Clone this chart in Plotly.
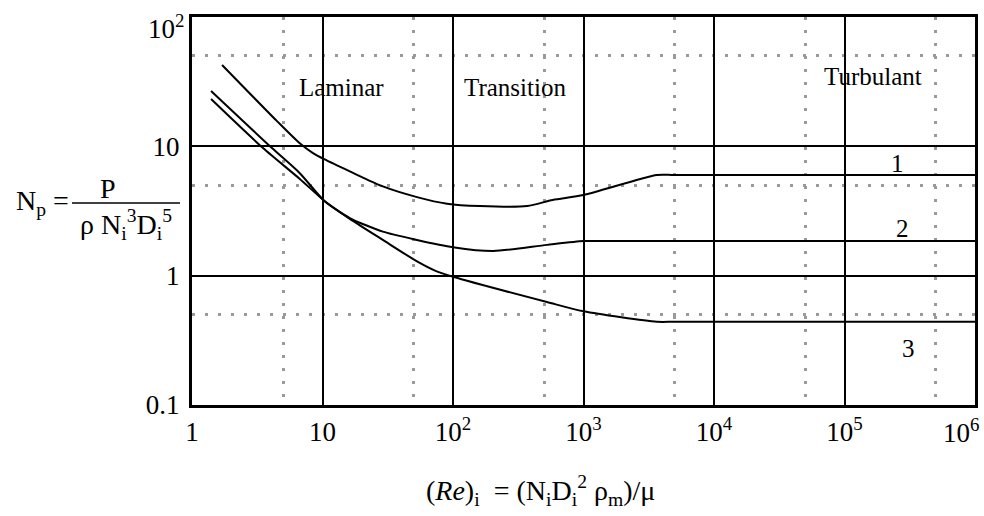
import plotly.graph_objects as go

# ---- data (log-log power-number chart) ----
re_1 = [1.7, 4.5, 6.73, 8.4, 10.3, 16.2, 29, 53, 90, 160, 370, 580, 1000, 3650, 5000, 1e6]
np_1 = [42.6, 15.6, 10.5, 8.9, 7.95, 6.4, 4.9, 4.05, 3.6, 3.45, 3.45, 3.85, 4.2, 6.0, 6.0, 6.0]

re_2 = [1.4, 4.1, 6.7, 10.3, 16.2, 29, 53, 100, 203, 525, 1000, 1400, 1e6]
np_2 = [26.8, 9.7, 6.2, 3.8, 2.79, 2.19, 1.89, 1.66, 1.55, 1.73, 1.85, 1.85, 1.85]

re_3 = [1.4, 3.5, 6.7, 10.3, 16.2, 29, 53, 75, 100, 525, 1000, 3650, 5000, 1e6]
np_3 = [23.2, 9.7, 5.6, 3.8, 2.75, 1.89, 1.29, 1.08, 0.98, 0.625, 0.53, 0.44, 0.44, 0.44]

x_ticks = [1, 10, 100, 1e3, 1e4, 1e5, 1e6]
x_tick_labels = ["1", "10", "10<sup>2</sup>", "10<sup>3</sup>", "10<sup>4</sup>",
                 "10<sup>5</sup>", "10<sup>6</sup>"]
y_ticks = [0.1, 1, 10, 100]
y_tick_labels = ["0.1", "1", "10", "10<sup>2</sup>"]
x_minor = [5, 50, 500, 5000, 50000, 500000]
y_minor = [0.5, 5, 50]

region_labels = ["Laminar", "Transition", "Turbulant"]
curve_labels = ["1", "2", "3"]

FONT = "Liberation Serif, Times New Roman, Times, DejaVu Serif, serif"

fig = go.Figure()
for xs, ys, name in [(re_1, np_1, curve_labels[0]),
                     (re_2, np_2, curve_labels[1]),
                     (re_3, np_3, curve_labels[2])]:
    fig.add_trace(go.Scatter(x=xs, y=ys, mode="lines", name=name,
                             line=dict(color="black", width=2, shape="spline",
                                       smoothing=0.7),
                             hoverinfo="skip"))

axis_common = dict(
    type="log",
    showgrid=True, gridcolor="black", gridwidth=2,
    showline=True, mirror=True, linecolor="black", linewidth=3,
    ticks="", tickfont=dict(family=FONT, size=27, color="black"),
    zeroline=False, automargin=False,
)

# the end labels (10^6 on x, 10^2 on y) sit inside the page as annotations
fig.update_xaxes(
    range=[0, 6], tickmode="array", tickvals=x_ticks[:-1], ticktext=x_tick_labels[:-1],
    ticklabelstandoff=1,
    minor=dict(tickmode="array", tickvals=x_minor, showgrid=True,
               gridcolor="#9a9a9a", griddash="3px,10px", gridwidth=3, ticks=""),
    **axis_common,
)
fig.update_yaxes(
    range=[-1, 2], tickmode="array", tickvals=y_ticks[:-1], ticktext=y_tick_labels[:-1],
    ticklabelstandoff=4,
    minor=dict(tickmode="array", tickvals=y_minor, showgrid=True,
               gridcolor="#9a9a9a", griddash="3px,10px", gridwidth=3, ticks=""),
    **axis_common,
)

W, H = 984, 516
L, R, T, B = 192, 9, 17, 111
pw, ph = W - L - R, H - T - B


def px(xp):
    return (xp - L) / pw


def py(yp):
    return (H - B - yp) / ph


def ann(text, xp, yp, size=25, xanchor="center"):
    fig.add_annotation(text=text, x=px(xp), y=py(yp), xref="paper", yref="paper",
                       showarrow=False, xanchor=xanchor, yanchor="middle",
                       font=dict(family=FONT, size=size, color="black"))


ann(x_tick_labels[-1], 981, 431, size=27, xanchor="right")
ann(y_tick_labels[-1], 186, 27, size=27, xanchor="right")

# region labels
ann(region_labels[0], 341, 87)
ann(region_labels[1], 515, 87)
ann(region_labels[2], 873, 76)
# curve numbers
ann(curve_labels[0], 897, 163)
ann(curve_labels[1], 902, 228)
ann(curve_labels[2], 908, 348)

# y-axis title as a fraction
ann("N<sub>p</sub> =", 42, 202, size=28)
ann("P", 108, 188, size=28)
ann("ρ N<sub>i</sub><sup>3</sup>D<sub>i</sub><sup>5</sup>", 126, 224, size=28)
fig.add_shape(type="line", xref="paper", yref="paper",
              x0=px(72), x1=px(180), y0=py(203), y1=py(203),
              line=dict(color="black", width=1.5))

# x-axis title
ann("(<i>Re</i>)<sub>i</sub>&nbsp;&nbsp;= (N<sub>i</sub>D<sub>i</sub><sup>2</sup> ρ<sub>m</sub>)/μ",
    540, 490, size=28)

fig.update_layout(
    width=W, height=H,
    margin=dict(l=L, r=R, t=T, b=B),
    paper_bgcolor="white", plot_bgcolor="white",
    showlegend=False,
    font=dict(family=FONT, color="black"),
)

fig.write_html("out.html", config={"displayModeBar": False},
               post_script="document.body.style.margin='0';document.body.style.overflow='hidden';")
